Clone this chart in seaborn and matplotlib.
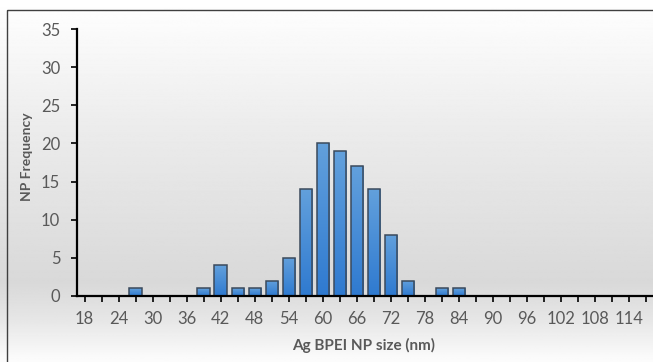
import numpy as np
import pandas as pd
import matplotlib
matplotlib.use("Agg")
import matplotlib.pyplot as plt
from matplotlib.patches import Rectangle
import seaborn as sns

# ---- data ----
sizes = [18, 21, 24, 27, 30, 33, 36, 39, 42, 45, 48, 51, 54, 57, 60, 63, 66,
         69, 72, 75, 78, 81, 84, 87, 90, 93, 96, 99, 102, 105, 108, 111, 114, 117]
counts = [0, 0, 0, 1, 0, 0, 0, 1, 4, 1, 1, 2, 5, 14, 20, 19, 17,
          14, 8, 2, 0, 1, 1, 0, 0, 0, 0, 0, 0, 0, 0, 0, 0, 0]
tick_labels = ["18", "", "24", "", "30", "", "36", "", "42", "", "48", "", "54", "",
               "60", "", "66", "", "72", "", "78", "", "84", "", "90", "", "96", "",
               "102", "", "108", "", "114", ""]
y_ticks = [0, 5, 10, 15, 20, 25, 30, 35]

df = pd.DataFrame({"size": [str(s) for s in sizes], "count": counts})

sns.set_theme(style="white")
plt.rcParams["font.family"] = ["Lato", "DejaVu Sans"]

W, H = 653, 362
fig = plt.figure(figsize=(W / 100, H / 100), dpi=100)

# background gradient (top of image = row 0)
bg = fig.add_axes([0, 0, 1, 1], zorder=-10)
ys = np.linspace(0, 1, 400)
stops_y = [0.0, 0.35, 0.78, 0.88, 1.0]
stops_v = [1.0, 0.925, 0.85, 0.90, 0.99]
vals = np.interp(ys, stops_y, stops_v)
grad = vals[:, None].repeat(2, axis=1)
bg.imshow(grad, cmap="gray", vmin=0, vmax=1, aspect="auto", extent=[0, 1, 1, 0])
bg.set_xlim(0, 1); bg.set_ylim(1, 0)
bg.axis("off")
# outer frame (only left and top edges visible)
bg.add_patch(Rectangle((7 / W, 10 / H), 1.2, 1.2, fill=False, edgecolor="#3f3f3f",
                       linewidth=1.0, transform=bg.transData))

ax = fig.add_axes([77 / W, (H - 296) / H, 1 - 77 / W, (296 - 29) / H])
ax.patch.set_alpha(0)

sns.barplot(data=df, x="size", y="count", order=[str(s) for s in sizes],
            color="#4a8fd6", edgecolor="#3b4a5c", linewidth=1.1, width=0.74,
            saturation=1, ax=ax, zorder=3)

# gradient fill on bars
cmap = matplotlib.colors.LinearSegmentedColormap.from_list("bar", ["#2f7ad0", "#62a0dc"])
gimg = np.linspace(0, 1, 100)[:, None]
for p in ax.patches:
    h = p.get_height()
    if h <= 0:
        p.set_visible(False)
        continue
    x0 = p.get_x(); w = p.get_width()
    im = ax.imshow(gimg, cmap=cmap, aspect="auto", origin="lower",
                   extent=[x0, x0 + w, 0, h], zorder=3.5)
    im.set_clip_path(p)
    p.set_zorder(4)
    p.set_facecolor("none")

ax.set_xlim(-0.45, 33.4)
ax.set_ylim(0, 35)
ax.set_yticks(y_ticks)
ax.set_yticklabels([str(v) for v in y_ticks])
ax.set_xticks(range(len(sizes)))
ax.set_xticklabels(tick_labels)

for s in ["top", "right"]:
    ax.spines[s].set_visible(False)
for s in ["left", "bottom"]:
    ax.spines[s].set_color("#000000")
    ax.spines[s].set_linewidth(1.6)
    ax.spines[s].set_zorder(5)

ax.tick_params(axis="both", direction="out", length=4, width=1.2, color="#000000",
               labelsize=12, labelcolor="#595959")
ax.tick_params(axis="x", bottom=True, pad=7)
ax.tick_params(axis="y", left=True, pad=8)

ax.set_xlabel("")
ax.set_ylabel("")
fig.text(364 / W, 1 - 345 / H, "Ag BPEI NP size (nm)", ha="center", va="center",
         fontsize=11, fontweight="bold", color="#595959")
fig.text(27 / W, 1 - 157 / H, "NP Frequency", ha="center", va="center",
         rotation=90, fontsize=10, fontweight="bold", color="#595959")

fig.savefig("out.png", dpi=100)
